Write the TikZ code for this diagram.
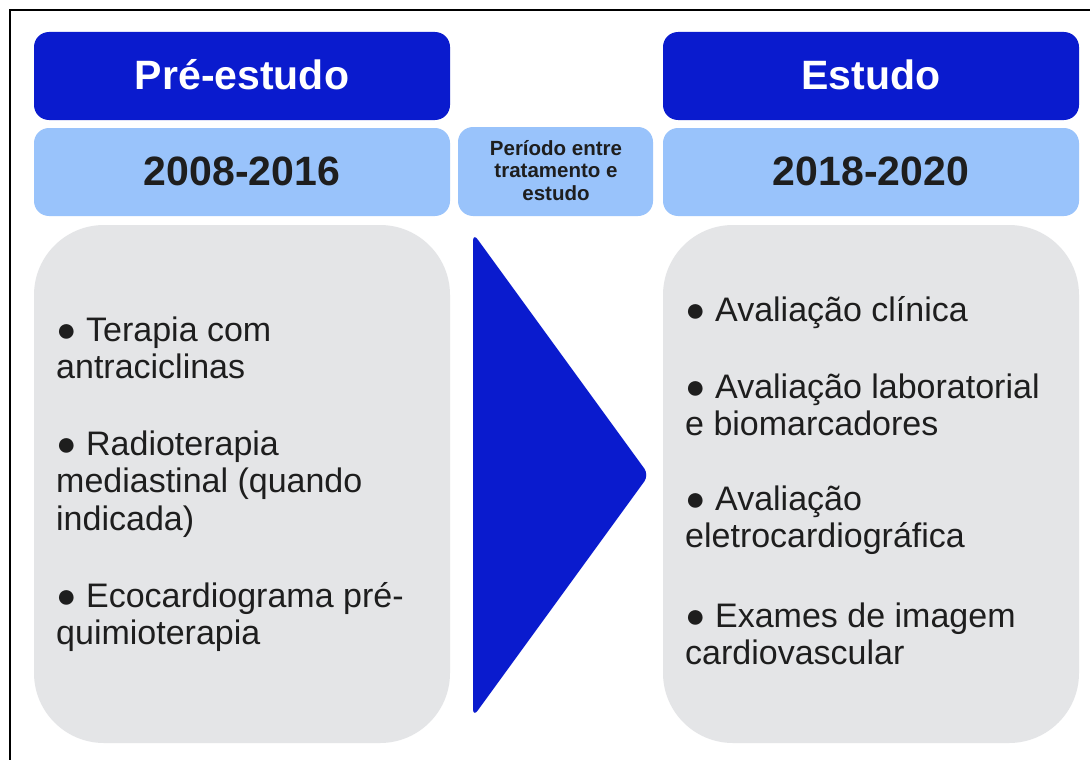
\documentclass[tikz,border=0pt]{standalone}
\usepackage{fontspec}
\setmainfont{Liberation Sans}
\definecolor{darkblue}{HTML}{0A1BCE}
\definecolor{lightblue}{HTML}{99C3FB}
\definecolor{boxgray}{HTML}{E4E5E7}
\definecolor{txtdark}{HTML}{1E1E1E}
\newcommand{\colblock}[2]{\vtop{\hsize=#1\parindent=0pt\raggedright #2\par}}
\newcommand{\cenblock}[2]{\vtop{\hsize=#1\parindent=0pt\centering #2\par}}
\tikzset{
  headbox/.style={fill=darkblue, rounded corners=15pt, minimum width=416pt, minimum height=88pt, inner sep=0pt},
  yearbox/.style={fill=lightblue, rounded corners=15pt, minimum width=416pt, minimum height=88pt, inner sep=0pt},
  midbox/.style={fill=lightblue, rounded corners=15pt, minimum width=195pt, minimum height=89pt, inner sep=0pt},
  graybox/.style={fill=boxgray, rounded corners=70pt, minimum width=416pt, minimum height=518pt, inner sep=0pt},
  headtext/.style={text=white, font=\fontsize{41}{46}\selectfont\bfseries, inner sep=0pt, anchor=base},
  yeartext/.style={text=txtdark, font=\fontsize{41}{46}\selectfont\bfseries, inner sep=0pt, anchor=base},
  midtext/.style={text=txtdark, font=\fontsize{20.5}{22.5}\selectfont\bfseries, inner sep=0pt, anchor=base},
  bodytext/.style={text=txtdark, font=\fontsize{34}{37.5}\selectfont, inner sep=0pt, anchor=base west},
}
\begin{document}
\begin{tikzpicture}[x=1pt,y=-1pt]
\useasboundingbox (0,0) rectangle (1090,760);
\fill[white] (0,0) rectangle (1090,760);
% frame
\coordinate (fbl) at (10,761);
\coordinate (ftl) at (10,10);
\coordinate (ftr) at (1091,10);
\draw[line width=2pt] (fbl) -- (ftl) -- (ftr);
% header boxes
\node[headbox] (preh) at (242,76) {};
\node[headbox] (esth) at (871,76) {};
\node[yearbox] (prey) at (242,172) {};
\node[yearbox] (esty) at (871,172) {};
\node[midbox] (mid) at (555.5,171.5) {};
\node[graybox] (preg) at (242,484) {};
\node[graybox] (estg) at (871,484) {};
% texts
\node[headtext] (pret) at (242,89) {Pré-estudo};
\node[headtext] (estt) at (871,89) {Estudo};
\node[yeartext] (preyt) at (242,185) {2008-2016};
\node[yeartext] (estyt) at (871,185) {2018-2020};
\node[midtext] (midt) at (556,155) {\cenblock{190pt}{Período entre\\tratamento e\\estudo}};
% triangle
\fill[darkblue, rounded corners=8pt] (473,475) -- (473,233) -- (649,475) -- (473,717) -- cycle;
% left items
\node[bodytext] (l1) at (56,341) {\colblock{390pt}{● Terapia com\\antraciclinas}};
\node[bodytext] (l2) at (56,455) {\colblock{390pt}{● Radioterapia\\mediastinal (quando\\indicada)}};
\node[bodytext] (l3) at (56,607) {\colblock{390pt}{● Ecocardiograma pré-\\quimioterapia}};
% right items
\node[bodytext] (r1) at (685,321) {\colblock{390pt}{● Avaliação clínica}};
\node[bodytext] (r2) at (685,398) {\colblock{390pt}{● Avaliação laboratorial\\e biomarcadores}};
\node[bodytext] (r3) at (685,510) {\colblock{390pt}{● Avaliação\\eletrocardiográfica}};
\node[bodytext] (r4) at (685,627) {\colblock{390pt}{● Exames de imagem\\cardiovascular}};
\end{tikzpicture}
\end{document}
